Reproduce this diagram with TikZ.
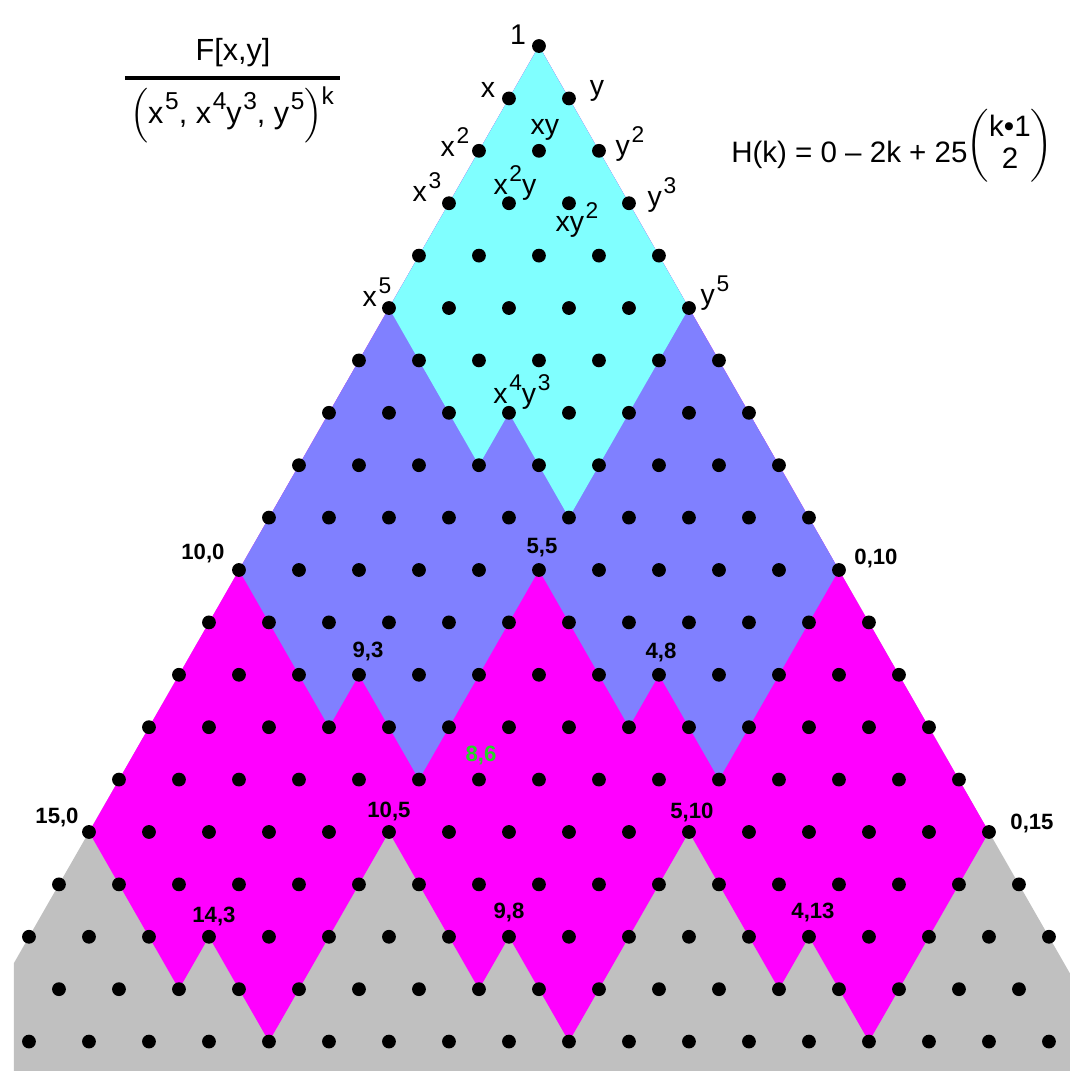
\documentclass[tikz,border=0pt]{standalone}
\usepackage{fontspec}
\setmainfont{Liberation Sans}
\usepackage{amsmath}
\usepackage{graphicx}

\definecolor{zoneA}{RGB}{128,255,255}
\definecolor{zoneB}{RGB}{128,128,255}
\definecolor{zoneC}{RGB}{255,0,255}
\definecolor{zoneD}{RGB}{192,192,192}
\definecolor{redund}{RGB}{40,210,40}

\newcommand{\pwr}[1]{\kern0.8pt\raisebox{0.45em}{\scalebox{0.8}{#1}}}

\begin{document}
\begin{tikzpicture}[
    x={(-0.5cm,-0.8733cm)}, y={(0.5cm,-0.8733cm)},
    dot/.style={circle, fill=black, inner sep=0pt, minimum size=0.23cm},
    mono/.style={font=\fontsize{13.5}{14}\selectfont, inner sep=0pt},
    idx/.style={font=\bfseries\fontsize{10.5}{11}\selectfont, inner sep=0pt},
    big/.style={font=\fontsize{14}{15}\selectfont, inner sep=0pt}
]

\useasboundingbox (-8.983cm,0.767cm) rectangle (8.85cm,-17.2cm);

% lattice of monomials, cut at the frame
\begin{scope}
\clip (-8.75cm,0.767cm) rectangle (8.85cm,-17.083cm);
\fill[zoneD] (0,0) -- (25,0) -- (0,25) -- cycle;
% k = 3
\fill[zoneC] (0,0) -- (15,0) -- (15,3) -- (14,3) -- (14,5) -- (10,5) -- (10,8) -- (9,8) -- (9,10)
    -- (5,10) -- (5,13) -- (4,13) -- (4,15) -- (0,15) -- cycle;
% k = 2
\fill[zoneB] (0,0) -- (10,0) -- (10,3) -- (9,3) -- (9,5) -- (5,5) -- (5,8) -- (4,8) -- (4,10) -- (0,10) -- cycle;
% k = 1
\fill[zoneA] (0,0) -- (5,0) -- (5,3) -- (4,3) -- (4,5) -- (0,5) -- cycle;

% dot for x^a y^b at (a,b)
\foreach \rr in {0,...,19} {
  \foreach \bb in {0,...,\rr} {
    \pgfmathtruncatemacro{\aa}{\rr-\bb}
    \node[dot] (m\aa-\bb) at (\aa,\bb) {};
  }
}
\end{scope}

% monomials near the top
\node[mono] (t0-0) at ([shift={(-0.35cm,0.183cm)}]m0-0) {1};
\node[mono] (t1-0) at ([shift={(-0.35cm,0.133cm)}]m1-0) {x};
\node[mono] (t0-1) at ([shift={(0.467cm,0.117cm)}]m0-1) {y};
\node[mono] (t2-0) at ([shift={(-0.4cm,0.15cm)}]m2-0) {x\pwr{2}};
\node[mono] (t1-1) at ([shift={(0.1cm,0.35cm)}]m1-1) {xy};
\node[mono] (t0-2) at ([shift={(0.517cm,0.117cm)}]m0-2) {y\pwr{2}};
\node[mono] (t3-0) at ([shift={(-0.367cm,0.267cm)}]m3-0) {x\pwr{3}};
\node[mono] (t2-1) at ([shift={(0.1cm,0.333cm)}]m2-1) {x\pwr{2}y};
\node[mono] (t1-2) at ([shift={(0.133cm,-0.283cm)}]m1-2) {xy\pwr{2}};
\node[mono] (t0-3) at ([shift={(0.55cm,0.133cm)}]m0-3) {y\pwr{3}};
\node[mono] (t5-0) at ([shift={(-0.2cm,0.267cm)}]m5-0) {x\pwr{5}};
\node[mono] (t0-5) at ([shift={(0.433cm,0.25cm)}]m0-5) {y\pwr{5}};
\node[mono] (t4-3) at ([shift={(0.217cm,0.35cm)}]m4-3) {x\pwr{4}y\pwr{3}};

% generators of the powers (a,b)
\node[idx] (t10-0) at ([shift={(-0.6cm,0.283cm)}]m10-0) {10,0};
\node[idx] (t5-5) at ([shift={(0.05cm,0.367cm)}]m5-5) {5,5};
\node[idx] (t0-10) at ([shift={(0.617cm,0.2cm)}]m0-10) {0,10};
\node[idx] (t9-3) at ([shift={(0.15cm,0.383cm)}]m9-3) {9,3};
\node[idx] (t4-8) at ([shift={(0.033cm,0.367cm)}]m4-8) {4,8};
\node[idx, text=redund] (t8-6) at ([shift={(0.033cm,0.4cm)}]m8-6) {8,6};
\node[idx] (t15-0) at ([shift={(-0.533cm,0.25cm)}]m15-0) {15,0};
\node[idx] (t10-5) at ([shift={(0cm,0.35cm)}]m10-5) {10,5};
\node[idx] (t5-10) at ([shift={(0.05cm,0.333cm)}]m5-10) {5,10};
\node[idx] (t0-15) at ([shift={(0.717cm,0.15cm)}]m0-15) {0,15};
\node[idx] (t14-3) at ([shift={(0.083cm,0.333cm)}]m14-3) {14,3};
\node[idx] (t9-8) at ([shift={(0cm,0.4cm)}]m9-8) {9,8};
\node[idx] (t4-13) at ([shift={(0.067cm,0.4cm)}]m4-13) {4,13};

% quotient ring
\node[font=\fontsize{14.5}{15}\selectfont] (num) at (-5.1cm,-0.117cm) {F[x,y]};
\coordinate (barL) at (-6.9cm,-0.533cm);
\coordinate (barR) at (-3.317cm,-0.533cm);
\draw[line width=1.6pt] (barL) -- (barR);
\node[font=\fontsize{14.5}{15}\selectfont] (den) at (-5.117cm,-1.15cm)
    {\(\Bigl(\)x\pwr{5}, x\pwr{4}y\pwr{3}, y\pwr{5}\(\Bigr)\)\kern-0.5pt\raisebox{0.6em}{\scalebox{0.8}{k}}};

% Hilbert polynomial
\node[big, anchor=east] (hk) at (7.15cm,-1.817cm) {H(k) = 0 – 2k + 25};
\node[big] (bin) at (7.85cm,-1.667cm) {\(\left(\begin{tabular}{@{}c@{}}k•1\\2\end{tabular}\right)\)};

\end{tikzpicture}
\end{document}
